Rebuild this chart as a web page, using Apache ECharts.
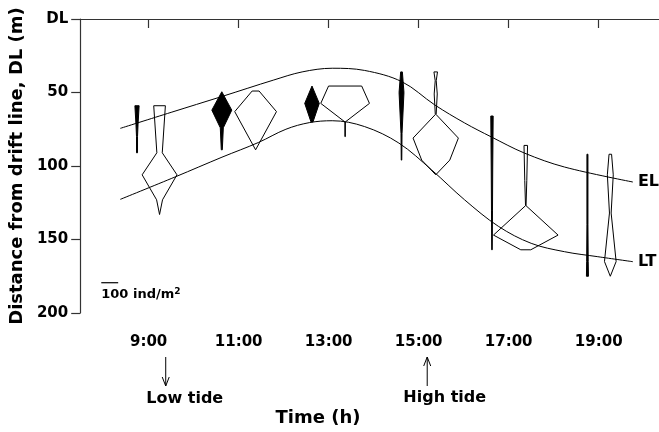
<!DOCTYPE html>
<html>
<head>
<meta charset="utf-8">
<script src="https://cdn.jsdelivr.net/npm/echarts@6/dist/echarts.min.js"></script>
<style>html,body{margin:0;padding:0;background:#fff}#c{width:659px;height:432px}</style>
</head>
<body>
<div id="c"></div>
<script>
// ---- data ----
const xTickHours = [9, 11, 13, 15, 17, 19];
const yTickLabelTop = 'DL';
// boundary curves (time h, distance m)
const elTimes = [8.37, 9.5, 10.63, 11.78, 12.41, 13.08, 13.8, 14.63, 15.36, 16.02, 16.62, 17.35, 18.24, 19.76];
const elDist  = [74.4, 63.5, 52.7, 41.5, 36, 33.5, 35, 42.7, 58.5, 70.7, 80.3, 91.2, 100.7, 110.9];
const ltTimes = [8.37, 9.6, 10.63, 11.44, 12.05, 12.57, 13.08, 13.8, 14.56, 15.29, 16.02, 16.77, 17.5, 18.24, 18.98, 19.76];
const ltDist  = [122.7, 107.3, 94, 84, 75, 70.5, 69.2, 73.2, 84.4, 102.7, 123, 141, 152.6, 158.3, 161.7, 165.1];
// kite diagrams: sampling time, filled (black) or open, distances and densities (ind/m2)
const kiteTimes  = [8.742, 9.243, 10.626, 11.377, 12.63, 13.366, 14.619, 15.379, 16.629, 17.38, 18.75, 19.258];
const kiteFilled = [true, false, true, false, true, false, true, false, true, false, true, false];
const kiteDL = [
  [59, 72, 80, 91],
  [59, 91, 106, 123, 133],
  [49.5, 62, 74, 89],
  [49, 63, 89],
  [45.6, 57.4, 70],
  [45.6, 57.4, 70, 80],
  [36, 50, 78, 96],
  [36, 42, 51, 65, 81, 96, 106],
  [66, 100, 130, 157],
  [86, 110, 127, 147, 157],
  [92, 140, 165, 175],
  [92, 106, 132, 165, 175]
];
const kiteDensity = [
  [25, 12, 6, 6],
  [69, 32, 206, 35, 0],
  [0, 118, 18, 6],
  [41, 247, 0],
  [0, 86, 12],
  [196, 288, 3, 3],
  [10, 29, 6, 3],
  [21, 6, 18, 5, 268, 166, 0],
  [14, 9, 6, 3],
  [21, 12, 3, 382, 59],
  [6, 6, 9, 12],
  [15, 35, 10, 69, 0]
];
// scale bar: 100 ind/m2 corresponds to this many hours on the x axis
const scaleBarDensity = 100;
const scaleBarHours = 0.3756;
const scaleBarPos = [7.948, 179.4];
const lowTideTime = 9.38;
const highTideTime = 15.19;

const FONT = 'DejaVu Sans';
const chart = echarts.init(document.getElementById('c'), null, {renderer: 'canvas'});

function pairs(ts, ds) { return ts.map((t, i) => [t, ds[i]]); }

const option = {
  backgroundColor: '#fff',
  animation: false,
  grid: {left: 77, top: 19, right: 0, bottom: 119},
  xAxis: {
    type: 'value', min: 7.48, max: 20.34,
    axisLine: {show: true, lineStyle: {color: '#333', width: 1.2}},
    axisTick: {show: true, length: 9, inside: false, customValues: xTickHours, lineStyle: {color: '#333', width: 1.2}},
    axisLabel: {customValues: xTickHours, formatter: v => v + ':00', margin: 22,
      fontFamily: FONT, fontWeight: 'bold', fontSize: 15, color: '#000'},
    splitLine: {show: false}
  },
  yAxis: {
    type: 'value', inverse: true, min: 0, max: 200, interval: 50,
    name: 'Distance from drift line, DL (m)', nameLocation: 'middle', nameGap: 50,
    nameTextStyle: {fontFamily: FONT, fontWeight: 'bold', fontSize: 18, color: '#000'},
    axisLine: {show: true, lineStyle: {color: '#333', width: 1.2}},
    axisTick: {show: true, length: 9, inside: false, lineStyle: {color: '#333', width: 1.2}},
    axisLabel: {formatter: v => v === 0 ? yTickLabelTop : String(v), margin: 12,
      fontFamily: FONT, fontWeight: 'bold', fontSize: 15, color: '#000'},
    splitLine: {show: false}
  },
  series: [
    {
      type: 'line', name: 'EL', data: pairs(elTimes, elDist), smooth: 0.35,
      showSymbol: false, symbol: 'none', lineStyle: {color: '#000', width: 1}, silent: true,
      endLabel: {show: true, formatter: 'EL', distance: 5, fontFamily: FONT, fontWeight: 'bold', fontSize: 16, color: '#000'},
      z: 3
    },
    {
      type: 'line', name: 'LT', data: pairs(ltTimes, ltDist), smooth: 0.35,
      showSymbol: false, symbol: 'none', lineStyle: {color: '#000', width: 1}, silent: true,
      endLabel: {show: true, formatter: 'LT', distance: 5, fontFamily: FONT, fontWeight: 'bold', fontSize: 16, color: '#000'},
      z: 3
    },
    {
      type: 'custom', name: 'kites',
      data: kiteTimes.map((t, i) => [t, i]),
      renderItem: function (params, api) {
        const k = api.value(1);
        const t = api.value(0);
        const dl = kiteDL[k], dn = kiteDensity[k];
        const hw = dn.map(d => d / scaleBarDensity * scaleBarHours / 2);
        const pts = [];
        for (let i = 0; i < dl.length; i++) pts.push(api.coord([t + hw[i], dl[i]]));
        for (let i = dl.length - 1; i >= 0; i--) pts.push(api.coord([t - hw[i], dl[i]]));
        return {
          type: 'polygon', shape: {points: pts},
          style: {fill: kiteFilled[k] ? '#000' : 'none', stroke: '#000', lineWidth: 1, lineJoin: 'miter'}
        };
      },
      z: 4
    },
    {
      type: 'custom', name: 'scale',
      data: [[scaleBarPos[0], scaleBarPos[1]]],
      renderItem: function (params, api) {
        const p0 = api.coord([api.value(0), api.value(1)]);
        const p1 = api.coord([api.value(0) + scaleBarHours, api.value(1)]);
        return {
          type: 'group', children: [
            {type: 'line', shape: {x1: p0[0], y1: p0[1], x2: p1[0], y2: p1[1]}, style: {stroke: '#000', lineWidth: 1.2}},
            {type: 'text', style: {
              x: p0[0], y: p0[1] + 12, text: '{a|' + scaleBarDensity + ' ind/m}{b|2}',
              align: 'left', verticalAlign: 'middle',
              rich: {
                a: {fontFamily: FONT, fontWeight: 'bold', fontSize: 13, lineHeight: 16, fill: '#000'},
                b: {fontFamily: FONT, fontWeight: 'bold', fontSize: 9, lineHeight: 9, verticalAlign: 'top', fill: '#000'}
              }
            }}
          ]
        };
      },
      z: 4
    }
  ]
};
chart.setOption(option);

const lx = chart.convertToPixel({xAxisIndex: 0}, lowTideTime);
const hx = chart.convertToPixel({xAxisIndex: 0}, highTideTime);
const txt = (text, x, y, size) => ({type: 'text', x: x, y: y, style: {text: text, fontFamily: FONT, fontWeight: 'bold', fontSize: size, fill: '#000', align: 'center', verticalAlign: 'middle'}});
chart.setOption({
  graphic: [
    {type: 'line', shape: {x1: lx, y1: 357, x2: lx, y2: 386}, style: {stroke: '#000', lineWidth: 1}},
    {type: 'polyline', shape: {points: [[lx - 3.5, 377], [lx, 386], [lx + 3.5, 377]]}, style: {stroke: '#000', lineWidth: 1, fill: 'none'}},
    {type: 'line', shape: {x1: hx, y1: 357, x2: hx, y2: 386}, style: {stroke: '#000', lineWidth: 1}},
    {type: 'polyline', shape: {points: [[hx - 3.5, 366], [hx, 357], [hx + 3.5, 366]]}, style: {stroke: '#000', lineWidth: 1, fill: 'none'}},
    txt('Low tide', lx + 19, 399, 16),
    txt('High tide', hx + 17.5, 398, 16),
    txt('Time (h)', 318, 418, 18)
  ]
});
</script>
</body>
</html>
